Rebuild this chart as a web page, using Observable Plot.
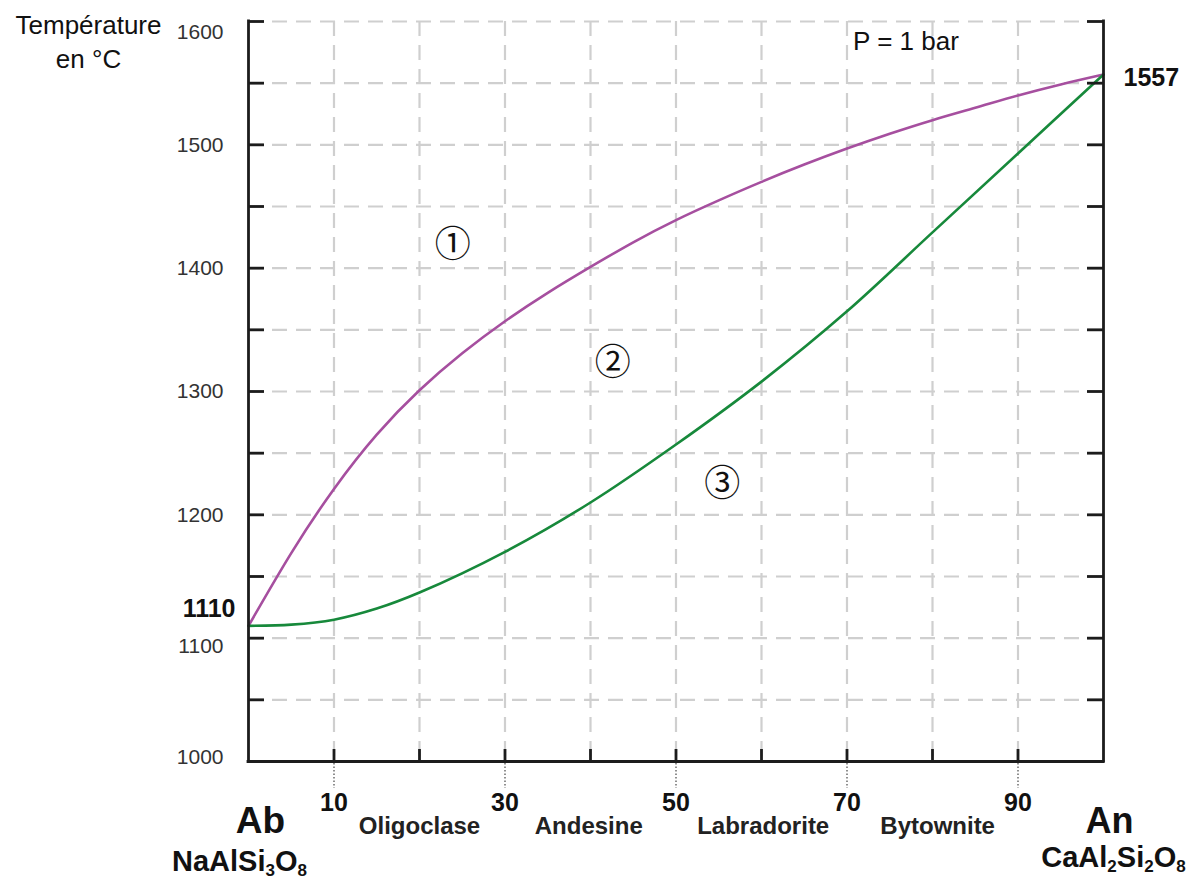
<!DOCTYPE html>
<html>
<head>
<meta charset="utf-8">
<script src="https://cdn.jsdelivr.net/npm/d3@7"></script>
<script src="https://cdn.jsdelivr.net/npm/@observablehq/plot@0.6"></script>
<style>
  html, body { margin: 0; padding: 0; background: #fff; }
  #chart svg { display: block; }
</style>
</head>
<body>
<div id="chart"></div>
<script>
// ---- Data ----
// Liquidus (purple) : % An  -> temperature °C
const liquidusX = [0, 5, 10, 15, 20, 25, 30, 35, 40, 45, 50, 55, 60, 65, 70, 75, 80, 85, 90, 95, 100];
const liquidusT = [1110, 1169, 1221, 1265, 1301, 1331, 1357, 1380, 1401, 1421, 1439, 1455, 1470, 1484, 1497, 1509, 1520, 1530, 1540, 1549, 1557];
// Solidus (green)
const solidusX = [0, 5, 10, 15, 20, 30, 40, 50, 60, 70, 80, 90, 100];
const solidusT = [1110, 1111, 1115, 1124, 1137, 1170, 1210, 1257, 1308, 1365, 1429, 1493, 1557];

// Axes / grid
const gridX = [10, 20, 30, 40, 50, 60, 70, 80, 90];
const gridY = [1050, 1100, 1150, 1200, 1250, 1300, 1350, 1400, 1450, 1500, 1550, 1600];
const yTickLabels = [1200, 1300, 1400, 1500];
const xTickLabels = [10, 30, 50, 70, 90];

// Plagioclase names
const minerals = ["Oligoclase", "Andesine", "Labradorite", "Bytownite"];
const mineralX = [20, 39.8, 60.2, 80.6];

// End members
const endNames = ["Ab", "An"];
const endFormulas = ["NaAlSi3O8", "CaAl2Si2O8"];
const endX = [0, 100];

// Field labels
const fieldLabels = ["①", "②", "③"];
const fieldX = [23.9, 42.6, 55.4];
const fieldT = [1418, 1323, 1225];

// Melting points
const meltLabels = ["1110", "1557"];
const meltX = [0, 100];
const meltT = [1110, 1557];

// ---- Build ----
const liquidus = liquidusX.map((x, i) => ({x, t: liquidusT[i]}));
const solidus = solidusX.map((x, i) => ({x, t: solidusT[i]}));

const W = 1194, H = 882;
const mL = 248, mR = 91, mT = 21, mB = 121;
const PW = W - mL - mR, PH = H - mT - mB;
const axisColor = "#1c1c1c";
const gridColor = "#cfcfcf";
const LA = "middle";

const plot = Plot.plot({
  width: W,
  height: H,
  marginLeft: mL, marginRight: mR, marginTop: mT, marginBottom: mB,
  x: {domain: [0, 100], axis: null},
  y: {domain: [1000, 1600], axis: null},
  style: {fontFamily: "'Liberation Sans', Arial, sans-serif", background: "#fff", overflow: "visible", color: "#111"},
  marks: [
    // grid
    Plot.ruleX(gridX, {stroke: gridColor, strokeWidth: 2.2, strokeDasharray: "15,9"}),
    Plot.ruleY(gridY, {stroke: gridColor, strokeWidth: 2.2, strokeDasharray: "15,9"}),
    // curves
    Plot.line(liquidus, {x: "x", y: "t", stroke: "#a64f9f", strokeWidth: 2.6, curve: "natural"}),
    Plot.line(solidus, {x: "x", y: "t", stroke: "#17893b", strokeWidth: 2.6, curve: "catmull-rom"}),
    // inward ticks
    Plot.tickY(gridY, {y: d => d, insetRight: PW - 16, stroke: axisColor, strokeWidth: 2.8}),
    Plot.tickY(gridY, {y: d => d, insetLeft: PW - 16, stroke: axisColor, strokeWidth: 2.8}),
    Plot.tickX(gridX, {x: d => d, insetTop: PH - 12, stroke: axisColor, strokeWidth: 2.8}),
    // dotted leaders below the axis
    Plot.tickX(xTickLabels, {x: d => d, insetTop: PH + 2, insetBottom: -27, stroke: "#555", strokeWidth: 1.3, strokeDasharray: "1.5,2"}),
    // frame (left, right, bottom)
    Plot.ruleX(endX, {stroke: axisColor, strokeWidth: 2.8, strokeLinecap: "square"}),
    Plot.ruleY([1000], {stroke: axisColor, strokeWidth: 2.8, strokeLinecap: "square"}),
    // y tick labels
    Plot.text(yTickLabels, {x: 0, y: d => d, text: d => String(d), dx: -25, textAnchor: "end", lineAnchor: LA, fontSize: 21, fill: "#333"}),
    Plot.text([1600], {x: 0, y: d => d, text: d => String(d), dx: -25, dy: 11, textAnchor: "end", lineAnchor: LA, fontSize: 21, fill: "#333"}),
    Plot.text([1100], {x: 0, y: d => d, text: d => String(d), dx: -25, dy: 8, textAnchor: "end", lineAnchor: LA, fontSize: 21, fill: "#333"}),
    Plot.text([1000], {x: 0, y: d => d, text: d => String(d), dx: -25, dy: -4, textAnchor: "end", lineAnchor: LA, fontSize: 21, fill: "#333"}),
    // melting points
    Plot.text([meltLabels[0]], {x: meltX[0], y: meltT[0], text: d => d, dx: -13, dy: -17, textAnchor: "end", lineAnchor: LA, fontSize: 25, fontWeight: "bold", fill: "#111"}),
    Plot.text([meltLabels[1]], {x: meltX[1], y: meltT[1], text: d => d, dx: 20, dy: 3, textAnchor: "start", lineAnchor: LA, fontSize: 25, fontWeight: "bold", fill: "#111"}),
    // x tick labels
    Plot.text(xTickLabels, {x: d => d, text: d => String(d), frameAnchor: "bottom", lineAnchor: LA, dy: 41, fontSize: 25, fontWeight: "bold", fill: "#111"}),
    // mineral names
    Plot.text(minerals, {x: (d, i) => mineralX[i], text: d => d, frameAnchor: "bottom", lineAnchor: LA, dy: 65, fontSize: 24, fontWeight: "bold", fill: "#222"}),
    // end members
    Plot.text([endNames[0]], {x: endX[0], text: d => d, frameAnchor: "bottom", lineAnchor: LA, dx: 12, dy: 60, fontSize: 37, fontWeight: "bold", fill: "#111"}),
    Plot.text([endNames[1]], {x: endX[1], text: d => d, frameAnchor: "bottom", lineAnchor: LA, dx: 6, dy: 60, fontSize: 36, fontWeight: "bold", fill: "#111"}),
    Plot.text([endFormulas[0]], {x: endX[0], text: d => d, frameAnchor: "bottom", lineAnchor: LA, dx: -9, dy: 100, fontSize: 29, fontWeight: "bold", fill: "#111"}),
    Plot.text([endFormulas[1]], {x: endX[1], text: d => d, frameAnchor: "bottom", lineAnchor: LA, dx: 10, dy: 96, fontSize: 29, fontWeight: "bold", fill: "#111"}),
    // field labels
    Plot.text(fieldLabels, {x: (d, i) => fieldX[i], y: (d, i) => fieldT[i], text: d => d, lineAnchor: LA, fontSize: 36, fontFamily: "'Noto Sans CJK JP', 'DejaVu Sans', sans-serif", fill: "#111"}),
    // pressure
    Plot.text(["P = 1 bar"], {x: 76.9, y: 1584, text: d => d, lineAnchor: LA, fontSize: 26, fill: "#111"}),
    // y title
    Plot.text(["Température"], {text: d => d, frameAnchor: "top-left", lineAnchor: LA, dx: -160, dy: 4, textAnchor: "middle", fontSize: 26, fill: "#111"}),
    Plot.text(["en °C"], {text: d => d, frameAnchor: "top-left", lineAnchor: LA, dx: -160, dy: 38, textAnchor: "middle", fontSize: 26, fill: "#111"})
  ]
});

// Chemical formulas: render digits as subscripts
d3.select(plot).selectAll("text").each(function () {
  const s = this.textContent;
  if (!endFormulas.includes(s)) return;
  const el = d3.select(this);
  this.textContent = "";
  const parts = s.match(/\d+|\D+/g);
  let shifted = false;
  for (const p of parts) {
    const isSub = /\d/.test(p);
    const t = el.append("tspan").text(p);
    if (isSub && !shifted) { t.attr("dy", 5).attr("font-size", 17); shifted = true; }
    else if (isSub) { t.attr("font-size", 17); }
    else if (shifted) { t.attr("dy", -5); shifted = false; }
  }
});

document.getElementById("chart").appendChild(plot);
</script>
</body>
</html>
